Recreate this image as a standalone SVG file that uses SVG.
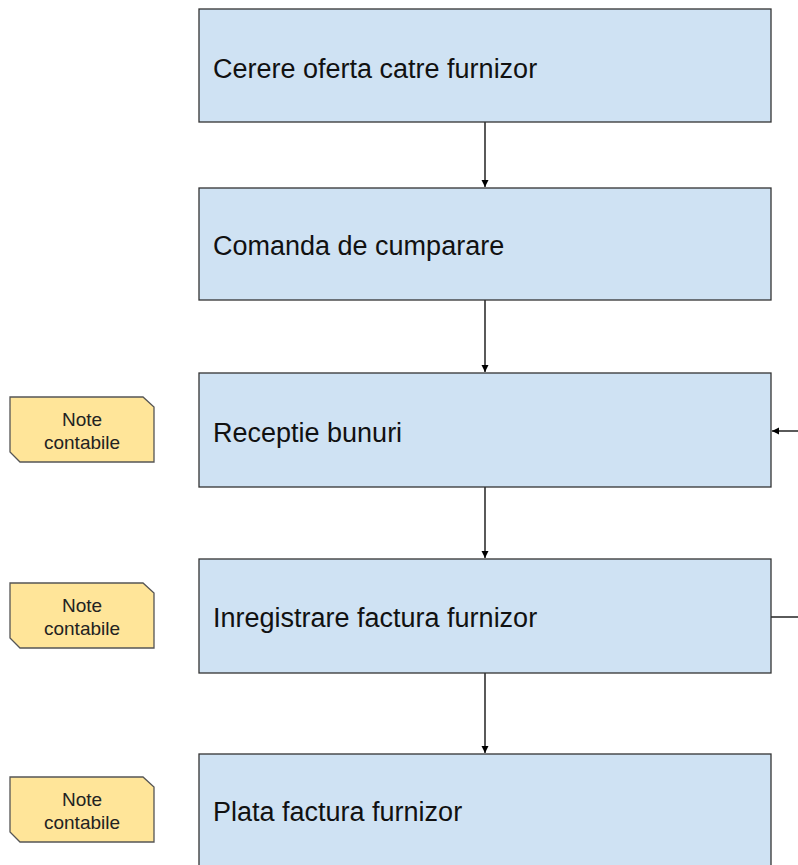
<svg xmlns="http://www.w3.org/2000/svg" width="798" height="865" viewBox="0 0 798 865">
<style>
.box{fill:#cfe2f3;stroke:#333;stroke-width:1.3}
.lbl{font-family:"Liberation Sans",Arial,sans-serif;font-size:27px;fill:#111}
.note{fill:#ffe599;stroke:#555;stroke-width:1.3}
.nt{font-family:"Liberation Sans",Arial,sans-serif;font-size:19px;fill:#222;text-anchor:middle}
.c{stroke:#000;stroke-width:1.3;fill:none}
</style>
<defs>
<marker id="ah" markerWidth="8" markerHeight="8" refX="7" refY="4" orient="auto" markerUnits="userSpaceOnUse">
<path d="M0,0.5 L7,4 L0,7.5 Z" fill="#000"/>
</marker>
</defs>
<g id="connectors">
<line class="c" x1="485" y1="122" x2="485" y2="187" marker-end="url(#ah)"/>
<line class="c" x1="485" y1="300" x2="485" y2="372" marker-end="url(#ah)"/>
<line class="c" x1="485" y1="487" x2="485" y2="558" marker-end="url(#ah)"/>
<line class="c" x1="485" y1="673" x2="485" y2="753" marker-end="url(#ah)"/>
<line class="c" x1="798" y1="431" x2="772" y2="431" marker-end="url(#ah)"/>
<line class="c" x1="771" y1="617" x2="798" y2="617"/>
</g>
<g id="n1"><rect class="box" x="199" y="9" width="572" height="113"/><text class="lbl" x="213" y="78">Cerere oferta catre furnizor</text></g>
<g id="n2"><rect class="box" x="199" y="188" width="572" height="112"/><text class="lbl" x="213" y="255">Comanda de cumparare</text></g>
<g id="n3"><rect class="box" x="199" y="373" width="572" height="114"/><text class="lbl" x="213" y="442">Receptie bunuri</text></g>
<g id="n4"><rect class="box" x="199" y="559" width="572" height="114"/><text class="lbl" x="213" y="627">Inregistrare factura furnizor</text></g>
<g id="n5"><rect class="box" x="199" y="754" width="572" height="120"/><text class="lbl" x="213" y="821">Plata factura furnizor</text></g>
<g id="note1"><path class="note" d="M10,397 H143 L154,407 V462 H20 L10,452 Z"/><text class="nt" x="82" y="426">Note</text><text class="nt" x="82" y="449">contabile</text></g>
<g id="note2"><path class="note" d="M10,583 H143 L154,593 V648 H20 L10,638 Z"/><text class="nt" x="82" y="612">Note</text><text class="nt" x="82" y="635">contabile</text></g>
<g id="note3"><path class="note" d="M10,777 H143 L154,787 V842 H20 L10,832 Z"/><text class="nt" x="82" y="806">Note</text><text class="nt" x="82" y="829">contabile</text></g>
</svg>
